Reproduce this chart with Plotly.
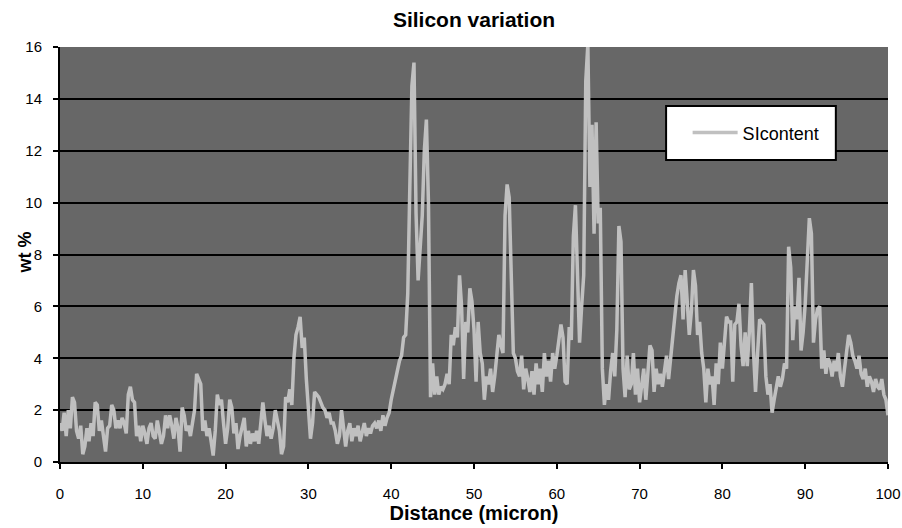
import numpy as np
import plotly.graph_objects as go

# Distance (micron) sampled every 0.25 micron from 0 to 100
distance = [round(i * 0.25, 2) for i in range(401)]

si_content = [
    1.5, 1.2, 1.9, 1.0,   # 0
    2.0, 1.3, 2.5, 2.3,   # 1
    1.2, 0.9, 1.4, 0.3,   # 2
    0.6, 1.3, 0.8, 1.5,   # 3
    1.0, 2.3, 2.2, 1.2,   # 4
    1.6, 1.0, 0.4, 1.3,   # 5
    1.4, 2.2, 2.0, 1.3,   # 6
    1.6, 1.3, 1.7, 1.5,   # 7
    1.1, 2.6, 2.9, 2.4,   # 8
    2.3, 1.0, 1.4, 0.8,   # 9
    1.4, 1.1, 0.7, 1.3,   # 10
    1.5, 1.0, 0.9, 1.6,   # 11
    1.2, 0.7, 1.0, 1.8,   # 12
    1.3, 1.8, 1.4, 0.9,   # 13
    1.7, 1.3, 0.4, 2.1,   # 14
    1.8, 1.2, 1.4, 1.0,   # 15
    1.5, 2.0, 3.4, 3.2,   # 16
    3.0, 1.2, 1.6, 1.0,   # 17
    1.3, 0.8, 0.25, 1.2,  # 18
    2.6, 2.2, 2.4, 1.5,   # 19
    0.7, 1.3, 2.4, 2.1,   # 20
    1.1, 1.5, 0.5, 1.0,   # 21
    1.4, 1.7, 0.6, 1.2,   # 22
    0.7, 1.1, 0.8, 1.2,   # 23
    0.7, 1.5, 2.3, 1.6,   # 24
    1.0, 1.4, 0.9, 1.3,   # 25
    2.0, 1.6, 1.2, 0.3,   # 26
    0.6, 2.5, 2.3, 2.8,   # 27
    2.2, 4.0, 4.9, 5.2,   # 28
    5.6, 4.4, 4.8, 3.2,   # 29
    2.0, 0.9, 1.5, 2.7,   # 30
    2.6, 2.5, 2.3, 2.1,   # 31
    2.0, 1.7, 1.9, 1.5,   # 32
    1.5, 1.2, 0.7, 1.0,   # 33
    2.0, 1.4, 0.6, 1.2,   # 34
    1.5, 0.8, 1.3, 1.0,   # 35
    1.4, 0.8, 1.2, 1.5,   # 36
    1.0, 1.3, 1.1, 1.4,   # 37
    1.5, 1.3, 1.6, 1.2,   # 38
    1.8, 1.4, 1.7, 1.9,   # 39
    2.4, 2.8, 3.2, 3.6,   # 40
    3.9, 4.1, 4.8, 4.9,   # 41
    6.5, 10.6, 14.5, 15.4,  # 42
    9.6, 7.0, 8.5, 9.5,   # 43
    12.0, 13.2, 10.0, 2.5,  # 44
    3.8, 2.6, 3.3, 2.6,   # 45
    2.9, 2.8, 3.0, 3.4,   # 46
    3.0, 4.9, 4.5, 5.2,   # 47
    4.8, 7.2, 6.0, 3.2,   # 48
    5.4, 5.0, 6.7, 6.2,   # 49
    5.1, 3.1, 5.4, 4.2,   # 50
    3.8, 2.4, 3.3, 3.0,   # 51
    3.6, 2.7, 3.3, 4.1,   # 52
    4.9, 4.5, 4.2, 9.5,   # 53
    10.7, 10.2, 7.7, 4.2,  # 54
    4.0, 3.5, 3.3, 4.1,   # 55
    2.8, 3.6, 3.2, 2.7,   # 56
    3.5, 2.6, 3.8, 3.0,   # 57
    3.6, 2.7, 4.2, 3.3,   # 58
    3.9, 3.1, 4.2, 3.6,   # 59
    4.1, 4.6, 5.3, 4.8,   # 60
    3.1, 3.0, 5.2, 4.7,   # 61
    8.7, 9.9, 7.4, 4.6,   # 62
    6.0, 7.2, 14.7, 16.1,  # 63
    10.6, 13.0, 8.8, 13.1,  # 64
    9.2, 9.8, 3.6, 2.2,   # 65
    3.0, 2.4, 3.5, 4.2,   # 66
    3.3, 5.1, 9.1, 8.5,   # 67
    3.6, 2.5, 4.1, 2.8,   # 68
    3.0, 4.2, 2.6, 3.6,   # 69
    2.3, 2.9, 3.6, 2.4,   # 70
    3.3, 4.5, 4.3, 2.7,   # 71
    3.6, 3.0, 3.4, 2.9,   # 72
    3.5, 4.1, 3.2, 4.0,   # 73
    4.9, 5.8, 6.4, 6.9,   # 74
    7.2, 5.5, 7.4, 6.2,   # 75
    4.9, 5.8, 7.4, 6.8,   # 76
    4.9, 5.4, 4.2, 3.6,   # 77
    2.3, 3.6, 3.0, 3.3,   # 78
    2.2, 3.8, 3.0, 4.6,   # 79
    3.6, 4.6, 5.6, 5.4,   # 80
    5.4, 3.1, 5.3, 5.4,   # 81
    6.1, 4.5, 3.7, 5.0,   # 82
    3.7, 5.0, 6.9, 4.3,   # 83
    2.7, 4.2, 5.5, 5.4,   # 84
    5.3, 3.3, 2.6, 3.0,   # 85
    1.9, 2.4, 2.9, 3.3,   # 86
    2.9, 3.2, 3.8, 3.6,   # 87
    8.3, 7.5, 4.7, 6.0,   # 88
    5.5, 7.1, 4.3, 5.0,   # 89
    6.1, 7.5, 9.4, 8.8,   # 90
    4.6, 5.5, 5.9, 6.0,   # 91
    3.6, 4.3, 3.4, 4.0,   # 92
    3.8, 3.3, 3.9, 3.5,   # 93
    4.2, 3.3, 2.9, 3.6,   # 94
    4.2, 4.9, 4.6, 4.1,   # 95
    3.9, 3.6, 4.1, 3.4,   # 96
    3.2, 3.6, 2.9, 3.3,   # 97
    3.1, 2.7, 3.2, 2.9,   # 98
    2.8, 3.2, 2.6, 2.4,   # 99
    1.8,                  # 100
]

x_ticks = [0, 10, 20, 30, 40, 50, 60, 70, 80, 90, 100]
y_ticks = [0, 2, 4, 6, 8, 10, 12, 14, 16]

FONT = "Liberation Sans, Arial, sans-serif"

fig = go.Figure()
fig.add_trace(go.Scatter(
    x=distance, y=si_content, mode="lines", name="SIcontent",
    line=dict(color="#c0c0c0", width=3.5),
))

fig.update_layout(
    width=902, height=528,
    margin=dict(l=60, r=14, t=47, b=66, autoexpand=False),
    paper_bgcolor="white",
    plot_bgcolor="#676767",
    font=dict(family=FONT, color="black", size=14),
    title=dict(text="<b>Silicon variation</b>", x=0.5, xref="paper", xanchor="center",
               y=1 - 20 / 528, yref="container", yanchor="middle",
               font=dict(size=21, family=FONT)),
    showlegend=True,
    legend=dict(x=0.758, y=0.793, xanchor="left", yanchor="middle",
                bgcolor="rgba(0,0,0,0)", borderwidth=0, itemwidth=45,
                font=dict(size=18, family=FONT)),
    shapes=[dict(type="rect", xref="paper", yref="paper",
                 x0=0.732, x1=0.937, y0=0.728, y1=0.858,
                 fillcolor="white", line=dict(color="black", width=2),
                 layer="above")],
    annotations=[dict(text="<b>wt %</b>", xref="paper", yref="paper",
                      x=-35 / 828, y=0.505, xanchor="center", yanchor="middle",
                      textangle=-90, showarrow=False,
                      font=dict(size=18, family=FONT, color="black"))],
)

fig.update_xaxes(
    range=[0, 100], tickvals=x_ticks, ticktext=[str(v) for v in x_ticks],
    showgrid=False, zeroline=False, automargin=False,
    showline=True, linecolor="black", linewidth=2, mirror=False,
    ticks="outside", ticklen=5, tickwidth=2, tickcolor="black",
    ticklabelstandoff=12,
    tickfont=dict(size=15, family=FONT),
    title=dict(text="<b>Distance (micron)</b>", font=dict(size=20, family=FONT), standoff=0),
)
fig.update_yaxes(
    range=[0, 16], tickvals=y_ticks, ticktext=[str(v) for v in y_ticks],
    showgrid=True, gridcolor="black", gridwidth=2, zeroline=False, automargin=False,
    showline=True, linecolor="black", linewidth=2,
    ticks="outside", ticklen=5, tickwidth=2, tickcolor="black",
    ticklabelstandoff=8,
    tickfont=dict(size=15, family=FONT),
)

fig.write_html("out.html",
               config={"displayModeBar": False},
               post_script="document.body.style.margin='0px';")
